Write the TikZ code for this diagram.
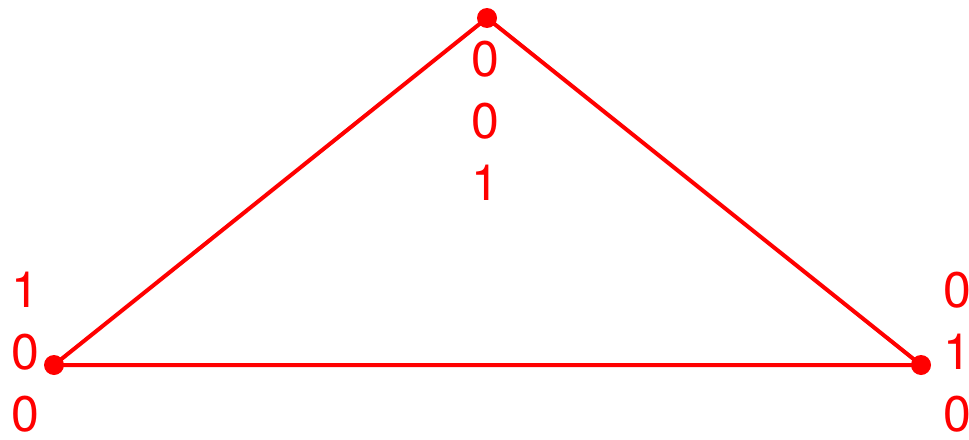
\documentclass[tikz,border=0pt]{standalone}
\usepackage{xcolor}
\usepackage{fontspec}
\setmainfont{TeX Gyre Heros}
\definecolor{vred}{HTML}{FF0000}

\begin{document}
\begin{tikzpicture}[x=0.5pt, y=-0.5pt,
  vertex/.style={circle, fill=vred, inner sep=0pt, minimum size=10pt},
  edge/.style={draw=vred, line width=2pt},
  coords/.style={text=vred, align=center, inner sep=0pt, font=\fontsize{25}{31}\selectfont}]
\useasboundingbox (0,0) rectangle (969,439);
% corners of the simplex
\node[vertex] (e3) at (487,18) {};
\node[vertex] (e1) at (54,365) {};
\node[vertex] (e2) at (921,365) {};
\draw[edge] (e1.center) -- (e3.center) -- (e2.center) -- cycle;
% barycentric labels
\node[coords] (l3) at (485,121) {0\\0\\1};
\node[coords] (l1) at (25,352) {1\\0\\0};
\node[coords] (l2) at (957,352) {0\\1\\0};
\end{tikzpicture}
\end{document}
